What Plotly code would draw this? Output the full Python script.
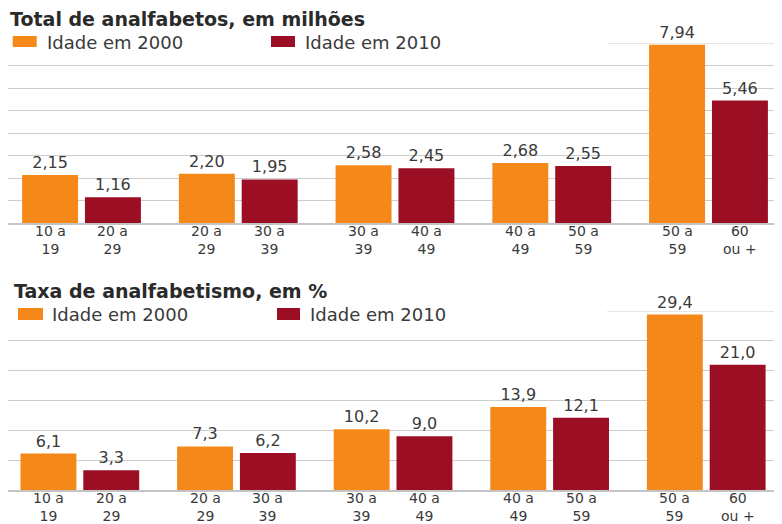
import plotly.graph_objects as go

# ---- data ----
line1_2000 = ["10 a", "20 a", "30 a", "40 a", "50 a"]
line2_2000 = ["19", "29", "39", "49", "59"]
line1_2010 = ["20 a", "30 a", "40 a", "50 a", "60"]
line2_2010 = ["29", "39", "49", "59", "ou +"]

total_2000 = [2.15, 2.20, 2.58, 2.68, 7.94]
total_2010 = [1.16, 1.95, 2.45, 2.55, 5.46]
taxa_2000 = [6.1, 7.3, 10.2, 13.9, 29.4]
taxa_2010 = [3.3, 6.2, 9.0, 12.1, 21.0]

title_top = "Total de analfabetos, em milhões"
title_bottom = "Taxa de analfabetismo, em %"
name_2000 = "Idade em 2000"
name_2010 = "Idade em 2010"

# ---- style ----
# the page body has an 8px margin, so the figure is drawn 8px in from the corner
OX, OY = 8, 8
W, H = 782 - OX, 524 - OY
ORANGE = "#F4891A"
RED = "#9B0E24"
GRID = "#cdcdcd"
TXT = "#3a3a3a"
FONT = "DejaVu Sans"
BW = 0.357
OFF_A = -0.379
OFF_B = 0.022
CA = OFF_A + BW / 2
CB = OFF_B + BW / 2


def py(p):
    return 1 - (p - OY) / H


def pxx(p):
    return (p - OX) / W


groups = list(range(len(total_2000)))

fig = go.Figure()


def add_pair(v2000, v2010, xa, ya, fmt):
    for vals, name, col, off in ((v2000, name_2000, ORANGE, OFF_A),
                                 (v2010, name_2010, RED, OFF_B)):
        fig.add_trace(go.Bar(x=groups, y=vals, name=name, marker_color=col,
                             marker_line_width=0, width=BW, offset=off,
                             texttemplate=fmt, textposition="outside",
                             textfont=dict(family=FONT, size=16, color=TXT),
                             constraintext="none", cliponaxis=False,
                             xaxis=xa, yaxis=ya, showlegend=False))


add_pair(total_2000, total_2010, "x", "y", "%{y:.2f}")
add_pair(taxa_2000, taxa_2010, "x2", "y2", "%{y:.1f}")

ann = []
shapes = []

# category labels under each bar
for xr, yr in (("x", "y"), ("x2", "y2")):
    for i in groups:
        for cx, l1, l2 in ((i + CA, line1_2000[i], line2_2000[i]),
                           (i + CB, line1_2010[i], line2_2010[i])):
            ann.append(dict(x=cx, y=0, xref=xr, yref=yr, text=f"{l1}<br>{l2}",
                            showarrow=False, xanchor="center", yanchor="middle",
                            yshift=-16.5, align="center",
                            font=dict(family=FONT, size=14, color=TXT)))

# titles
ann.append(dict(x=pxx(8), y=py(19), xref="paper", yref="paper", text=f"<b>{title_top}</b>",
                showarrow=False, xanchor="left", yanchor="middle",
                font=dict(family=FONT, size=19, color="#2a2a2a")))
ann.append(dict(x=pxx(12), y=py(291), xref="paper", yref="paper", text=f"<b>{title_bottom}</b>",
                showarrow=False, xanchor="left", yanchor="middle",
                font=dict(family=FONT, size=19, color="#2a2a2a")))


# legends (manual, wide swatches)
def legend(y_top, y_bot, items):
    for (x0, x1, tx, name, col) in items:
        shapes.append(dict(type="rect", xref="paper", yref="paper",
                           x0=pxx(x0), x1=pxx(x1), y0=py(y_bot), y1=py(y_top),
                           fillcolor=col, line=dict(width=0)))
        ann.append(dict(x=pxx(tx), y=py((y_top + y_bot) / 2 + 0.5), xref="paper", yref="paper",
                        text=name, showarrow=False, xanchor="left", yanchor="middle",
                        font=dict(family=FONT, size=18, color=TXT)))


legend(36, 47, [(12.7, 36.7, 45, name_2000, ORANGE), (271, 295, 303, name_2010, RED)])
legend(308, 320, [(18, 43, 50, name_2000, ORANGE), (277, 300, 308, name_2010, RED)])

# partial top gridlines
shapes.append(dict(type="line", xref="paper", yref="y", x0=pxx(607), x1=1, y0=8, y1=8,
                   line=dict(color=GRID, width=1), layer="below"))
shapes.append(dict(type="line", xref="paper", yref="y2", x0=pxx(607), x1=1, y0=30, y1=30,
                   line=dict(color=GRID, width=1), layer="below"))

axis_x = dict(showgrid=False, zeroline=False, showticklabels=False, ticks="",
              showline=True, linecolor="#c4c4c4", linewidth=1.5, domain=[0, 1])

fig.update_layout(
    width=W, height=H,
    margin=dict(l=0, r=0, t=0, b=0),
    paper_bgcolor="white", plot_bgcolor="white",
    separators=",.",
    barmode="overlay",
    showlegend=False,
    xaxis=dict(axis_x, range=[(OX - 81.5) / 156.75, (782 - 81.5) / 156.75], anchor="y"),
    yaxis=dict(range=[0, 8], domain=[py(223.3), py(43.5)], tickvals=list(range(1, 8)),
               showticklabels=False, gridcolor=GRID, gridwidth=1, zeroline=False, ticks="",
               anchor="x"),
    xaxis2=dict(axis_x, range=[(OX - 79.85) / 156.6, (782 - 79.85) / 156.6], anchor="y2"),
    yaxis2=dict(range=[0, 30], domain=[py(490), py(311)], tickvals=[5, 10, 15, 20, 25],
                showticklabels=False, gridcolor=GRID, gridwidth=1, zeroline=False, ticks="",
                anchor="x2"),
    annotations=ann,
    shapes=shapes,
)

fig.write_html("out.html")
